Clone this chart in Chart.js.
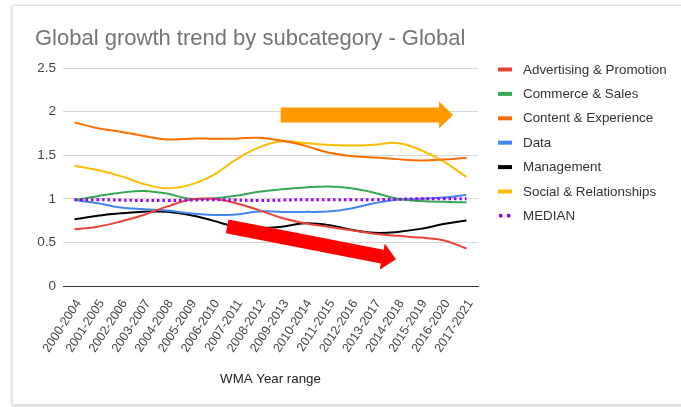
<!DOCTYPE html>
<html>
<head>
<meta charset="utf-8">
<script src="https://cdn.jsdelivr.net/npm/chart.js@4.4.1/dist/chart.umd.min.js"></script>
<style>
  html, body { margin: 0; padding: 0; background: #fff; }
  #wrap { position: relative; width: 681px; height: 407px; overflow: hidden; }
  .card {
    position: absolute; left: 12px; top: 5px; width: 720px; height: 398px;
    background: #fff; border: 1px solid #e2e2e2;
    box-shadow: 0 1px 4px rgba(0, 0, 0, 0.22);
  }
  canvas { position: absolute; left: 0; top: 0; }
</style>
</head>
<body>
<div id="wrap">
  <div class="card"></div>
  <canvas id="chart" width="681" height="407"></canvas>
</div>
<script>
// --- data -------------------------------------------------------------
const yearRanges = [
  '2000-2004', '2001-2005', '2002-2006', '2003-2007', '2004-2008', '2005-2009',
  '2006-2010', '2007-2011', '2008-2012', '2009-2013', '2010-2014', '2011-2015',
  '2012-2016', '2013-2017', '2014-2018', '2015-2019', '2016-2020', '2017-2021'
];

const advertising = [0.65, 0.68, 0.74, 0.815, 0.91, 0.99, 1.0, 0.95, 0.87, 0.78, 0.72, 0.68, 0.64, 0.60, 0.575, 0.555, 0.525, 0.43];
const commerce    = [0.985, 1.03, 1.07, 1.09, 1.06, 1.0, 1.005, 1.035, 1.08, 1.11, 1.13, 1.14, 1.12, 1.07, 1.0, 0.975, 0.965, 0.96];
const content     = [1.876, 1.81, 1.77, 1.72, 1.68, 1.69, 1.69, 1.69, 1.70, 1.665, 1.61, 1.53, 1.49, 1.475, 1.455, 1.44, 1.45, 1.47];
const dataSeries  = [0.985, 0.95, 0.90, 0.88, 0.865, 0.835, 0.815, 0.82, 0.855, 0.85, 0.85, 0.855, 0.89, 0.95, 0.99, 1.0, 1.015, 1.045];
const management  = [0.765, 0.806, 0.833, 0.852, 0.852, 0.814, 0.75, 0.68, 0.665, 0.68, 0.72, 0.70, 0.645, 0.61, 0.62, 0.655, 0.71, 0.75];
const social      = [1.38, 1.33, 1.26, 1.17, 1.12, 1.16, 1.27, 1.45, 1.59, 1.66, 1.64, 1.62, 1.61, 1.62, 1.64, 1.56, 1.43, 1.25];
const median      = [0.99, 0.99, 0.985, 0.98, 0.98, 0.985, 0.99, 0.985, 0.98, 0.985, 0.99, 0.99, 0.99, 0.99, 0.995, 1.0, 1.0, 1.0];

const yTicks = [0, 0.5, 1, 1.5, 2, 2.5];

const FONT = "'Liberation Sans', Arial, sans-serif";

function series(label, values, color, extra) {
  return Object.assign({
    label, data: values, borderColor: color, backgroundColor: color,
    borderWidth: 2, pointRadius: 0, tension: 0.4, fill: false, order: 1
  }, extra || {});
}

// title, right-hand legend and the two highlight arrows
const overlay = {
  id: 'overlay',
  beforeDraw(chart) {
    const ctx = chart.ctx;
    ctx.save();
    ctx.fillStyle = '#757575';
    ctx.font = `22px ${FONT}`;
    ctx.textBaseline = 'alphabetic';
    ctx.fillText('Global growth trend by subcategory - Global', 35, 45);
    ctx.restore();
  },
  afterDatasetsDraw(chart, args, opts) {
    const ctx = chart.ctx;
    const xs = chart.scales.x, ys = chart.scales.y;
    opts.arrows.forEach(a => {
      const x0 = xs.getPixelForValue(a.from[0]), y0 = ys.getPixelForValue(a.from[1]);
      const x1 = xs.getPixelForValue(a.to[0]),   y1 = ys.getPixelForValue(a.to[1]);
      const len = Math.hypot(x1 - x0, y1 - y0);
      const ux = (x1 - x0) / len, uy = (y1 - y0) / len;
      const nx = -uy, ny = ux;
      const bx = x1 - ux * a.headLen, by = y1 - uy * a.headLen;
      const w = a.width / 2, h = a.head / 2;
      ctx.save();
      ctx.fillStyle = a.color;
      ctx.beginPath();
      ctx.moveTo(x0 + nx * w, y0 + ny * w);
      ctx.lineTo(bx + nx * w, by + ny * w);
      ctx.lineTo(bx + nx * h, by + ny * h);
      ctx.lineTo(x1, y1);
      ctx.lineTo(bx - nx * h, by - ny * h);
      ctx.lineTo(bx - nx * w, by - ny * w);
      ctx.lineTo(x0 - nx * w, y0 - ny * w);
      ctx.closePath();
      ctx.fill();
      ctx.restore();
    });
  },
  afterDraw(chart, args, opts) {
    const ctx = chart.ctx;
    ctx.save();
    ctx.font = `13.4px ${FONT}`;
    ctx.textBaseline = 'middle';
    chart.data.datasets.forEach((ds, i) => {
      const cy = opts.legendTop + i * opts.legendGap;
      ctx.fillStyle = ds.borderColor;
      if (ds.borderDash) {
        ctx.fillRect(opts.legendX + 1, cy - 2, 3.5, 3.5);
        ctx.fillRect(opts.legendX + 9, cy - 2, 3.5, 3.5);
      } else {
        ctx.fillRect(opts.legendX, cy - 2, 14, 4);
      }
      ctx.fillStyle = '#333';
      ctx.fillText(ds.label, opts.legendX + 25, cy + 0.5);
    });
    ctx.restore();
  }
};

new Chart(document.getElementById('chart'), {
  type: 'line',
  data: {
    labels: yearRanges,
    datasets: [
      series('Advertising & Promotion', advertising, '#ea4335'),
      series('Commerce & Sales', commerce, '#34a853'),
      series('Content & Experience', content, '#ff6d01'),
      series('Data', dataSeries, '#4285f4'),
      series('Management', management, '#000000'),
      series('Social & Relationships', social, '#fbbc04'),
      series('MEDIAN', median, '#9900ff', { borderWidth: 3, borderDash: [2.5, 3], borderCapStyle: 'butt', order: 0 })
    ]
  },
  options: {
    responsive: false,
    animation: false,
    events: [],
    layout: { padding: { left: 20, right: 203, top: 68, bottom: 16 } },
    plugins: {
      legend: { display: false },
      tooltip: { enabled: false },
      overlay: {
        legendX: 498, legendTop: 69.5, legendGap: 24.4,
        arrows: [
          { from: [8.94, 1.96], to: [16.42, 1.96], color: '#ff9900', width: 15, head: 27, headLen: 14 },
          { from: [6.62, 0.685], to: [13.94, 0.306], color: '#ff0000', width: 14, head: 27, headLen: 14 }
        ]
      }
    },
    scales: {
      x: {
        offset: true,
        grid: { display: false, drawTicks: false },
        border: { display: true, color: '#333', width: 1 },
        ticks: {
          autoSkip: false, minRotation: 57, maxRotation: 57, padding: 11, labelOffset: 4,
          color: '#444', font: { family: FONT, size: 12.5 }
        },
        title: {
          display: true, text: 'WMA Year range', color: '#222',
          font: { family: FONT, size: 13.3 }, padding: { top: 4, bottom: 4 }
        },
        afterFit(scale) { scale.height = 105; }
      },
      y: {
        min: 0, max: 2.5,
        afterBuildTicks(scale) { scale.ticks = yTicks.map(v => ({ value: v })); },
        grid: { color: '#d6d6d6', drawTicks: false },
        border: { display: false },
        ticks: {
          color: '#444', padding: 7, font: { family: FONT, size: 13.5 },
          callback: v => String(v)
        },
        afterFit(scale) { scale.width = 43; }
      }
    }
  },
  plugins: [overlay]
});
</script>
</body>
</html>
